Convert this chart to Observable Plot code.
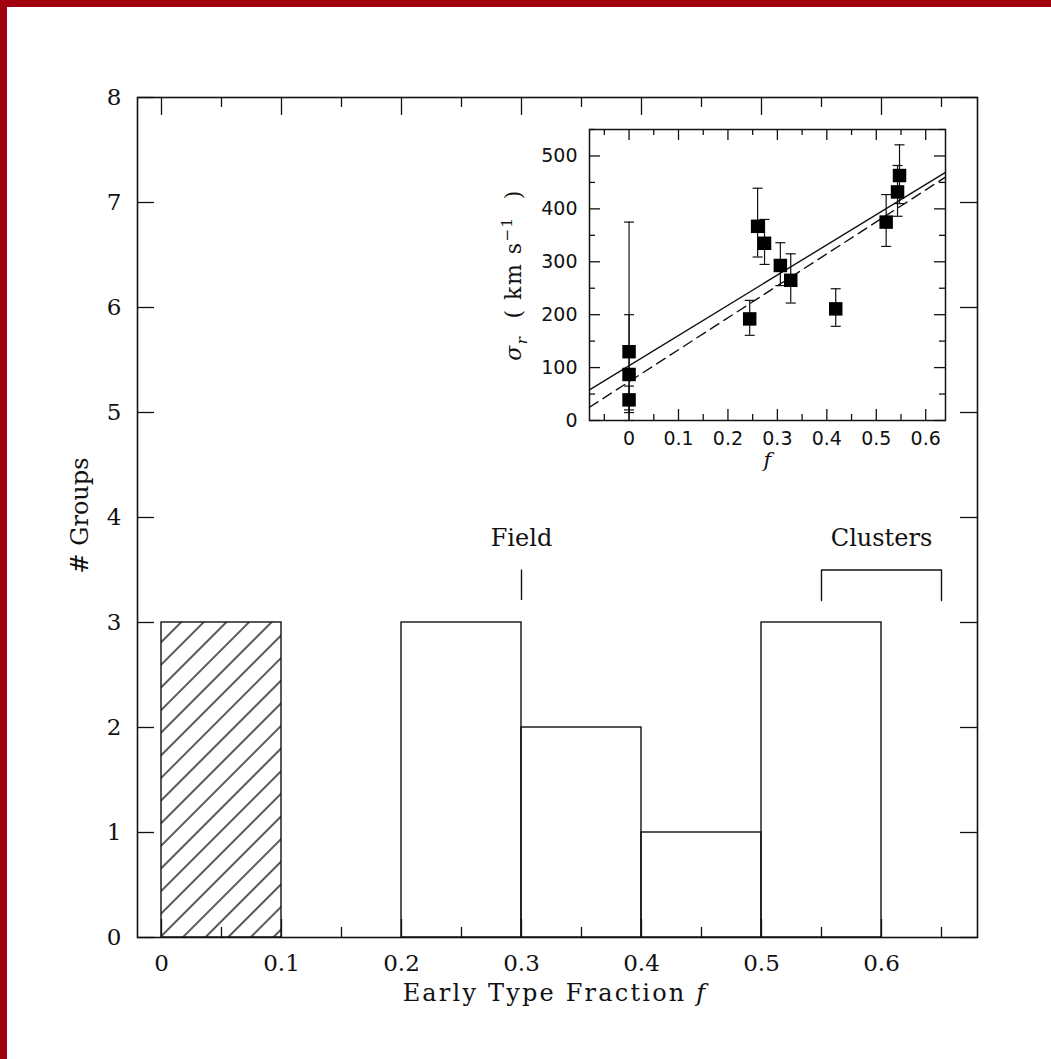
<!DOCTYPE html>
<html>
<head>
<meta charset="utf-8">
<script src="https://cdn.jsdelivr.net/npm/d3@7"></script>
<script src="https://cdn.jsdelivr.net/npm/@observablehq/plot@0.6"></script>
<style>
  html, body { margin: 0; padding: 0; background: #fff; }
  #chart { position: relative; width: 1051px; height: 1059px; overflow: hidden; background: #fff; }
  #chart svg { position: absolute; overflow: visible; }
  .edge { position: absolute; background: #a0000e; }
</style>
</head>
<body>
<div id="chart"></div>
<script>
// ---- Histogram: number of groups per early-type-fraction bin ----
const binStarts = [0, 0.1, 0.2, 0.3, 0.4, 0.5];
const binEnds   = [0.1, 0.2, 0.3, 0.4, 0.5, 0.6];
const binCounts = [3, 0, 3, 2, 1, 3];
const binHatched = [true, false, false, false, false, false];

const xMajorTicks = [0, 0.1, 0.2, 0.3, 0.4, 0.5, 0.6];
const xMinorTicks = [0.05, 0.15, 0.25, 0.35, 0.45, 0.55, 0.65];
const yMajorTicks = [0, 1, 2, 3, 4, 5, 6, 7, 8];

// Field / Clusters reference marks
const fieldMark = [{ f: 0.3, y1: 3.21, y2: 3.5 }];
const clusterBracketF = [0.55, 0.55, 0.65, 0.65];
const clusterBracketY = [3.21, 3.5, 3.5, 3.21];
const regionNames = ["Field", "Clusters"];
const regionF = [0.3, 0.6];
const regionY = [3.8, 3.8];

// ---- Inset: velocity dispersion vs early-type fraction ----
const groupF     = [0, 0, 0, 0.244, 0.26, 0.274, 0.306, 0.327, 0.418, 0.52, 0.543, 0.547];
const groupSigma = [130, 87, 39, 192, 367, 335, 293, 265, 211, 375, 432, 463];
const groupLo    = [20, 0, 15, 161, 309, 295, 255, 222, 178, 329, 386, 410];
const groupHi    = [375, 200, 65, 227, 439, 380, 336, 315, 249, 427, 482, 521];

const fitSolidF = [-0.08, 0.64], fitSolidS = [58, 469];
const fitDashedF = [-0.08, 0.64], fitDashedS = [25, 460];

const insetXMajor = [0, 0.1, 0.2, 0.3, 0.4, 0.5, 0.6];
const insetXMinor = [-0.05, 0.05, 0.15, 0.25, 0.35, 0.45, 0.55];
const insetYMajor = [0, 100, 200, 300, 400, 500];
const insetYMinor = [50, 150, 250, 350, 450, 550];

// ---- tables ----
const bins = binStarts.map((x1, i) => ({ x1, x2: binEnds[i], count: binCounts[i], hatch: binHatched[i] }));
const bracket = clusterBracketF.map((f, i) => ({ f, y: clusterBracketY[i] }));
const regions = regionNames.map((text, i) => ({ text, f: regionF[i], y: regionY[i] }));
const groups = groupF.map((f, i) => ({ f, s: groupSigma[i], lo: groupLo[i], hi: groupHi[i] }));
const fitSolid = fitSolidF.map((f, i) => ({ f, s: fitSolidS[i] }));
const fitDashed = fitDashedF.map((f, i) => ({ f, s: fitDashedS[i] }));

const INK = "#111";
const W = 1051, H = 1059;
const mainM = { left: 137, right: 74, top: 97, bottom: 122 };
const frameH = H - mainM.top - mainM.bottom;
const frameW = W - mainM.left - mainM.right;

// inward ticks: rules across the frame, inset so only a short stub remains
const inwardX = (vals, len, side, opts = {}) =>
  Plot.ruleX(vals, { x: d => d, stroke: INK, strokeWidth: 1.3,
    ...(side === "bottom" ? { insetTop: opts.h - len } : { insetBottom: opts.h - len }) });
const inwardY = (vals, len, side, opts = {}) =>
  Plot.ruleY(vals, { y: d => d, stroke: INK, strokeWidth: 1.3,
    ...(side === "left" ? { insetRight: opts.w - len } : { insetLeft: opts.w - len }) });

const main = Plot.plot({
  width: W, height: H,
  marginLeft: mainM.left, marginRight: mainM.right, marginTop: mainM.top, marginBottom: mainM.bottom,
  x: { domain: [-0.02, 0.68] },
  y: { domain: [0, 8] },
  style: { fontFamily: "DejaVu Serif", fontSize: "23px", color: INK, background: "transparent" },
  marks: [
    Plot.rect(bins.filter(d => d.hatch), { x1: "x1", x2: "x2", y1: 0, y2: "count", fill: "url(#hatch)" }),
    Plot.rect(bins, { x1: "x1", x2: "x2", y1: 0, y2: "count", fill: "none", stroke: INK, strokeWidth: 1.4 }),
    inwardX(xMajorTicks, 18, "bottom", { h: frameH }),
    inwardX(xMajorTicks, 18, "top", { h: frameH }),
    inwardX(xMinorTicks, 10, "bottom", { h: frameH }),
    inwardX(xMinorTicks, 10, "top", { h: frameH }),
    inwardY(yMajorTicks, 17, "left", { w: frameW }),
    inwardY(yMajorTicks, 17, "right", { w: frameW }),
    Plot.frame({ stroke: INK, strokeWidth: 1.6 }),
    Plot.axisX({ anchor: "bottom", ticks: xMajorTicks, tickSize: 0, tickPadding: 17, tickFormat: d => String(d), label: null }),
    Plot.axisY({ anchor: "left", ticks: yMajorTicks, tickSize: 0, tickPadding: 16, label: null }),
    Plot.ruleX(fieldMark, { x: "f", y1: "y1", y2: "y2", stroke: INK, strokeWidth: 1.4 }),
    Plot.line(bracket, { x: "f", y: "y", stroke: INK, strokeWidth: 1.4 }),
    Plot.text(regions, { x: "f", y: "y", text: "text", fontSize: 24, letterSpacing: 2.6 }),
    Plot.text(["# Groups"], { frameAnchor: "left", textAnchor: "middle", dx: -57, dy: -2, rotate: -90,
      text: d => d, fontSize: 24, letterSpacing: 2.4 })
  ]
});
main.style.left = "0px";
main.style.top = "0px";

// diagonal hatching for the first bin
const msvg = d3.select(main);
const pat = msvg.insert("defs", ":first-child").append("pattern")
  .attr("id", "hatch").attr("patternUnits", "userSpaceOnUse")
  .attr("width", 16).attr("height", 16).attr("patternTransform", "rotate(45)");
pat.append("line").attr("x1", 8).attr("y1", -1).attr("x2", 8).attr("y2", 17)
  .attr("stroke", "#000").attr("stroke-width", 1.3);

// x-axis title with italic f
const xt = msvg.append("text")
  .attr("x", (mainM.left + W - mainM.right) / 2 - 2).attr("y", 1001)
  .attr("text-anchor", "middle").attr("fill", INK)
  .style("font-family", "DejaVu Serif").style("font-size", "24px").style("letter-spacing", "2.2px");
xt.append("tspan").text("Early Type Fraction ");
xt.append("tspan").attr("font-style", "italic").text("f");

// ---- inset plot ----
const iW = 480, iH = 380;
const iM = { left: 109, right: 15, top: 19, bottom: 70 };
const iFrameW = iW - iM.left - iM.right, iFrameH = iH - iM.top - iM.bottom;
const cap = { draw(ctx) { ctx.moveTo(-5, 0); ctx.lineTo(5, 0); } };

const inset = Plot.plot({
  width: iW, height: iH,
  marginLeft: iM.left, marginRight: iM.right, marginTop: iM.top, marginBottom: iM.bottom,
  x: { domain: [-0.08, 0.64] },
  y: { domain: [0, 550] },
  style: { fontFamily: "DejaVu Sans", fontSize: "19px", color: INK, background: "transparent" },
  marks: [
    inwardX(insetXMajor, 11, "bottom", { h: iFrameH }),
    inwardX(insetXMajor, 11, "top", { h: iFrameH }),
    inwardX(insetXMinor, 6, "bottom", { h: iFrameH }),
    inwardX(insetXMinor, 6, "top", { h: iFrameH }),
    inwardY(insetYMajor, 11, "left", { w: iFrameW }),
    inwardY(insetYMajor, 11, "right", { w: iFrameW }),
    inwardY(insetYMinor, 6, "left", { w: iFrameW }),
    inwardY(insetYMinor, 6, "right", { w: iFrameW }),
    Plot.frame({ stroke: INK, strokeWidth: 1.5 }),
    Plot.axisX({ anchor: "bottom", ticks: insetXMajor, tickSize: 0, tickPadding: 11, tickFormat: d => String(d), label: null }),
    Plot.axisY({ anchor: "left", ticks: insetYMajor, tickSize: 0, tickPadding: 12, label: null }),
    Plot.line(fitSolid, { x: "f", y: "s", stroke: INK, strokeWidth: 1.4 }),
    Plot.line(fitDashed, { x: "f", y: "s", stroke: INK, strokeWidth: 1.4, strokeDasharray: "10,6" }),
    Plot.ruleX(groups, { x: "f", y1: "lo", y2: "hi", stroke: INK, strokeWidth: 1.2 }),
    Plot.dot(groups, { x: "f", y: "lo", symbol: cap, r: 5, stroke: INK, strokeWidth: 1.2, fill: "none" }),
    Plot.dot(groups, { x: "f", y: "hi", symbol: cap, r: 5, stroke: INK, strokeWidth: 1.2, fill: "none" }),
    Plot.dot(groups, { x: "f", y: "s", symbol: "square", r: 7.6, fill: "#000", stroke: "none" }),
    Plot.text(["f"], { frameAnchor: "bottom", dy: 46, text: d => d, fontStyle: "italic", fontFamily: "DejaVu Serif", fontSize: 21 })
  ]
});
inset.style.left = "480px";
inset.style.top = "110px";

// rotated y title with sub/superscripts
const yt = d3.select(inset).append("text")
  .attr("transform", "translate(33,165) rotate(-90)")
  .attr("text-anchor", "middle").attr("dy", "0.35em").attr("fill", INK)
  .style("font-family", "DejaVu Serif").style("font-size", "22px").style("letter-spacing", "1.5px");
yt.append("tspan").attr("font-style", "italic").text("σ");
yt.append("tspan").attr("font-style", "italic").attr("font-size", "15px").attr("dy", "6").text("r");
yt.append("tspan").attr("dy", "-6").text("  ( km s");
yt.append("tspan").attr("font-size", "15px").attr("dy", "-9").text("−1");
yt.append("tspan").attr("dy", "9").text("  )");

const chart = document.getElementById("chart");
chart.appendChild(main);
chart.appendChild(inset);
for (const [l, t, w, h] of [[0, 0, W, 7], [0, 0, 7, H]]) {
  const e = document.createElement("div");
  e.className = "edge";
  Object.assign(e.style, { left: l + "px", top: t + "px", width: w + "px", height: h + "px" });
  chart.appendChild(e);
}
</script>
</body>
</html>
